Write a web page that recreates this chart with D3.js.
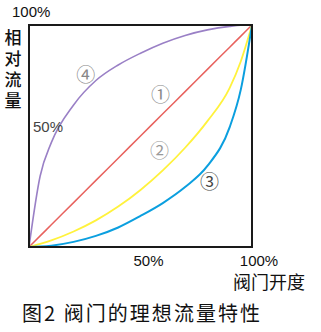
<!DOCTYPE html>
<html>
<head>
<meta charset="utf-8">
<script src="https://cdn.jsdelivr.net/npm/d3@7"></script>
<style>
  body { margin: 0; background: #fff; }
  text { font-family: "Noto Sans CJK SC", "Liberation Sans", sans-serif; }
  text.pct { font-family: "Liberation Sans", Arial, sans-serif; }
</style>
</head>
<body>
<div id="chart"></div>
<script>
// valve opening (fraction of full travel)
var opening = [0, 0.05, 0.1, 0.2, 0.3, 0.4, 0.5, 0.6, 0.7, 0.8, 0.9, 0.95, 1];
// relative flow for each characteristic
var linearFlow   = [0, 0.05, 0.1, 0.2, 0.3, 0.4, 0.5, 0.6, 0.7, 0.8, 0.9, 0.95, 1];
var parabolaFlow = [0, 0.014, 0.03, 0.07, 0.12, 0.182, 0.257, 0.345, 0.447, 0.567, 0.717, 0.837, 1];
var equalPctFlow = [0, 0.002, 0.006, 0.023, 0.05, 0.088, 0.14, 0.198, 0.27, 0.365, 0.54, 0.71, 1];
var quickFlow    = [0, 0.32, 0.47, 0.64, 0.75, 0.82, 0.873, 0.918, 0.953, 0.978, 0.994, 0.999, 1];

var seriesNames = ["①", "②", "③", "④"];
var yLabel = "相对流量";

var width = 321, height = 332;
var svg = d3.select("#chart").append("svg")
    .attr("width", width)
    .attr("height", height);

var x = d3.scaleLinear().domain([0, 1]).range([29, 252]);
var y = d3.scaleLinear().domain([0, 1]).range([247, 25]);

var line = d3.line()
    .x(function(d) { return x(d[0]); })
    .y(function(d) { return y(d[1]); })
    .curve(d3.curveMonotoneX);

function pairs(vals) {
  return opening.map(function(o, i) { return [o, vals[i]]; });
}

var series = [
  { vals: linearFlow,   color: "#e8625e", w: 1.5 },
  { vals: parabolaFlow, color: "#fff23c", w: 1.8 },
  { vals: equalPctFlow, color: "#0b9fdf", w: 2 },
  { vals: quickFlow,    color: "#9a80c6", w: 1.6 }
];

series.forEach(function(s) {
  svg.append("path")
    .datum(pairs(s.vals))
    .attr("d", line)
    .attr("fill", "none")
    .attr("stroke", s.color)
    .attr("stroke-width", s.w);
});

// plot frame
svg.append("rect")
  .attr("x", x(0))
  .attr("y", y(1))
  .attr("width", x(1) - x(0))
  .attr("height", y(0) - y(1))
  .attr("fill", "none")
  .attr("stroke", "#1a1a1a")
  .attr("stroke-width", 2);

// circled curve numbers
var numPos = [[0.59, 0.69], [0.585, 0.44], [0.81, 0.3], [0.255, 0.78]];
var numColor = ["#888", "#999", "#444", "#888"];
svg.append("g").selectAll("text")
  .data(seriesNames)
  .join("text")
    .attr("x", function(d, i) { return x(numPos[i][0]); })
    .attr("y", function(d, i) { return y(numPos[i][1]); })
    .attr("text-anchor", "middle")
    .attr("dominant-baseline", "central")
    .attr("font-size", 19)
    .attr("fill", function(d, i) { return numColor[i]; })
    .text(function(d) { return d; });

// axis labels
svg.append("text")
  .attr("class", "pct")
  .attr("x", 12).attr("y", 17)
  .attr("font-size", 15)
  .attr("fill", "#111")
  .text("100%");

svg.append("text")
  .attr("class", "pct")
  .attr("x", x(0) + 4).attr("y", y(0.5) - 4)
  .attr("font-size", 15)
  .attr("fill", "#444")
  .text("50%");

svg.append("text")
  .attr("class", "pct")
  .attr("x", x(0.5) + 8).attr("y", 266)
  .attr("text-anchor", "middle")
  .attr("font-size", 15)
  .attr("fill", "#111")
  .text("50%");

svg.append("text")
  .attr("class", "pct")
  .attr("x", x(1) + 7).attr("y", 266)
  .attr("text-anchor", "middle")
  .attr("font-size", 15)
  .attr("fill", "#111")
  .text("100%");

svg.append("text")
  .attr("x", 233).attr("y", 289)
  .attr("font-size", 18)
  .attr("fill", "#111")
  .text("阀门开度");

// vertical y label, one text set top to bottom
svg.append("text")
  .attr("x", 13)
  .attr("y", 29)
  .style("writing-mode", "vertical-rl")
  .attr("font-size", 17)
  .attr("letter-spacing", 4)
  .attr("font-weight", 500)
  .attr("fill", "#111")
  .text(yLabel);

svg.append("text")
  .attr("x", 22).attr("y", 321)
  .attr("font-size", 20)
  .attr("textLength", 238)
  .attr("lengthAdjust", "spacing")
  .attr("fill", "#111")
  .text("图2 阀门的理想流量特性");
</script>
</body>
</html>
